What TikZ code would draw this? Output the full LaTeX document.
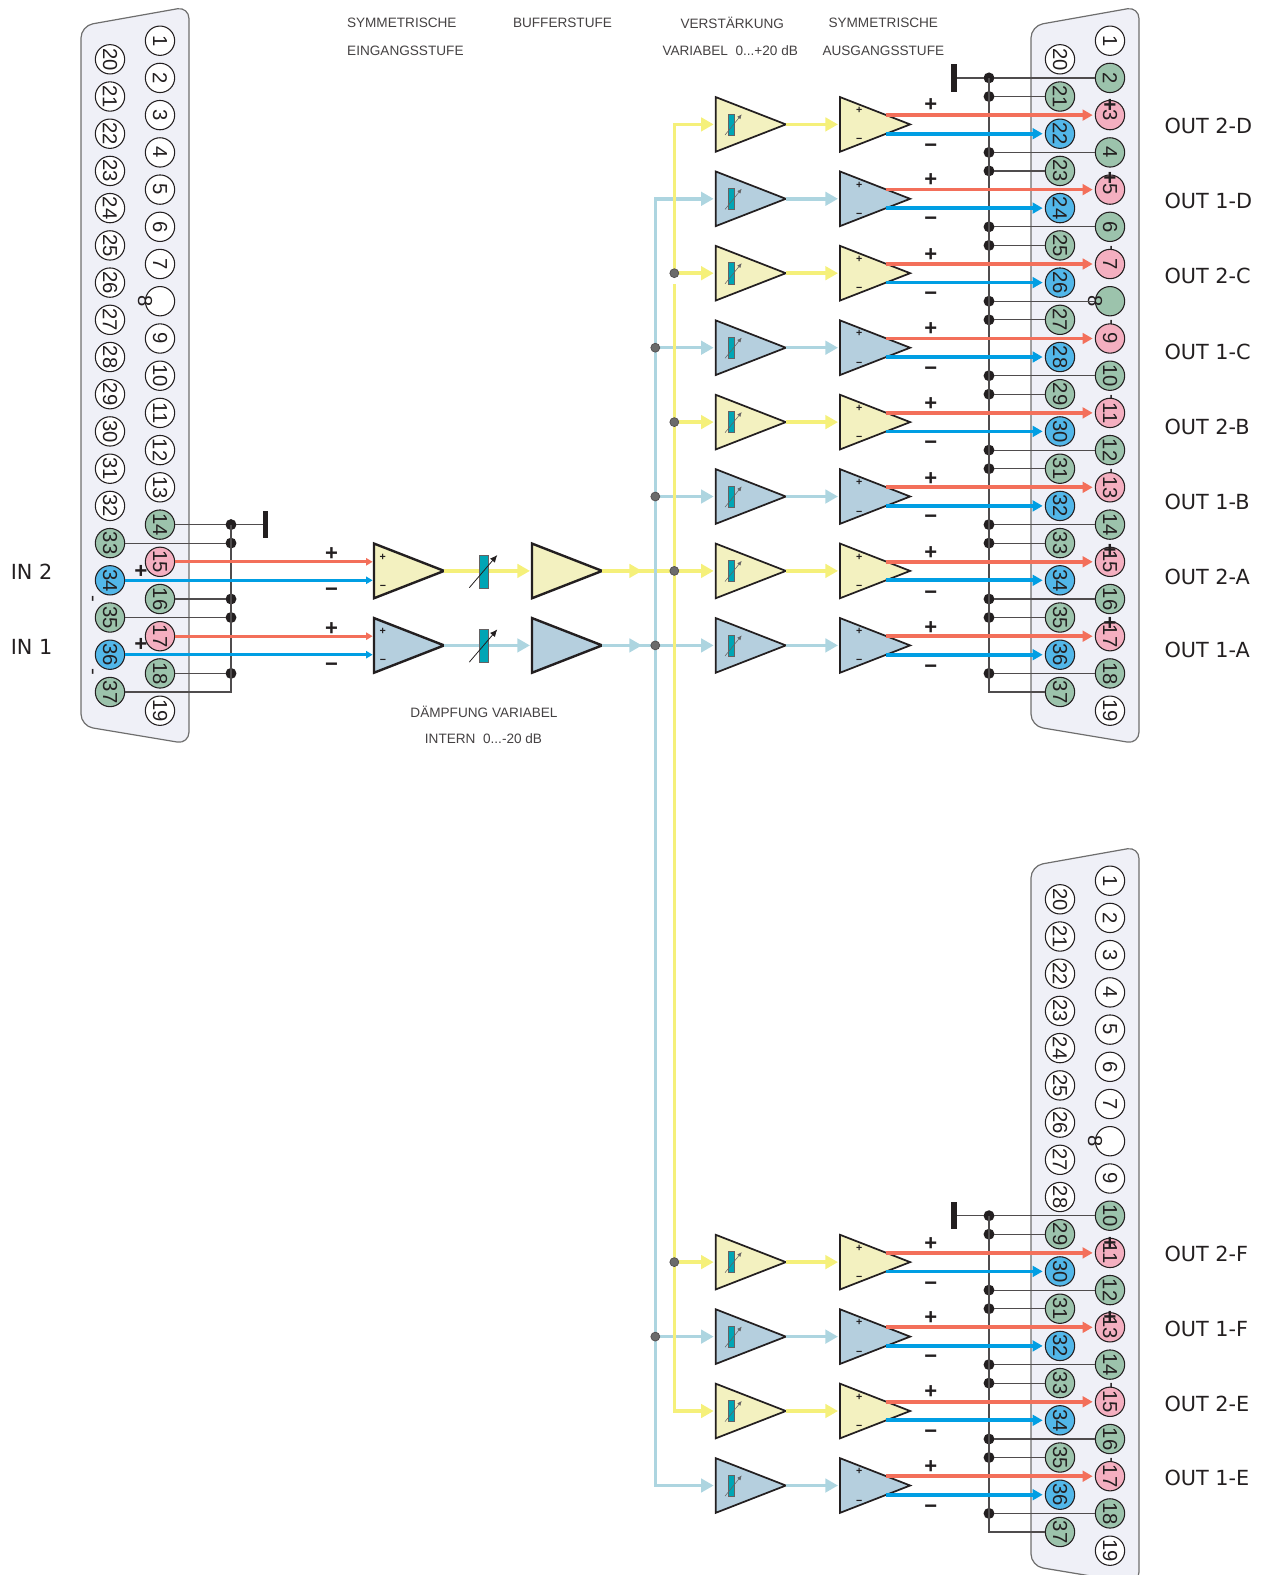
\documentclass[tikz,border=0pt]{standalone}
\usepackage{fontspec}
\setmainfont{Liberation Sans}
\newfontfamily\labelfont{DejaVu Sans}
\usetikzlibrary{arrows.meta}
\usetikzlibrary{shapes.geometric}
\definecolor{inkdark}{HTML}{231F20}
\definecolor{shellfill}{HTML}{EFF0F7}
\definecolor{shelledge}{HTML}{6E6E6E}
\definecolor{pingreen}{HTML}{9CC3AC}
\definecolor{pinpink}{HTML}{F4AFC0}
\definecolor{pinblue}{HTML}{52B7E9}
\definecolor{ampyellow}{HTML}{F3F1C0}
\definecolor{ampblue}{HTML}{B5CFDE}
\definecolor{lineyellow}{HTML}{F5F07A}
\definecolor{lineblue}{HTML}{ADD5E0}
\definecolor{linered}{HTML}{F36F5A}
\definecolor{linecyan}{HTML}{009EE3}
\definecolor{trimteal}{HTML}{00A5B5}
\tikzset{every picture/.style={line width=0.75pt}}
\tikzset{
  shell/.style={draw=shelledge,fill=shellfill,line width=0.9pt,rounded corners=9pt},
  pinw/.style={circle,draw=inkdark,fill=white,line width=0.8pt,minimum size=22pt,inner sep=0pt,outer sep=0pt,text=inkdark,rotate=-90,font=\fontsize{15.2}{15}\selectfont},
  ping/.style={pinw,fill=pingreen},
  pinp/.style={pinw,fill=pinpink},
  pinb/.style={pinw,fill=pinblue},
  pinmark/.style={inner sep=0pt,text=inkdark,rotate=-90,font=\fontsize{15.2}{15}\selectfont},
  pinplus/.style={pinmark,font=\fontsize{16.5}{15}\bfseries},
  amp/.style={isosceles triangle,isosceles triangle stretches=true,shape border rotate=0,anchor=lower side,draw=inkdark,line width=1.3pt,minimum width=41pt,minimum height=52.6pt,inner sep=0pt,outer sep=0pt},
  ampy/.style={amp,fill=ampyellow},
  ampb/.style={amp,fill=ampblue},
  ampthick/.style={line width=1.8pt},
  sgn/.style={inner sep=0pt,text height=5.3pt,text depth=0pt,text=inkdark,font=\fontsize{8}{8}\bfseries},
  bigsgn/.style={inner sep=0pt,text height=10.9pt,text depth=0pt,text=inkdark,font=\fontsize{16.5}{16}\bfseries},
  wy/.style={draw=lineyellow,line width=2.6pt,-{Triangle[length=9.4pt,width=10pt]},shorten >=1.5pt},
  wb/.style={wy,draw=lineblue},
  wyp/.style={draw=lineyellow,line width=2.6pt,line cap=rect},
  wbp/.style={draw=lineblue,line width=2.6pt,line cap=rect},
  wrout/.style={draw=linered,line width=2.8pt,-{Triangle[length=7.5pt,width=8pt]},shorten >=2pt},
  wcout/.style={wrout,draw=linecyan},
  wrin/.style={draw=linered,line width=2.4pt,-{Triangle[length=5pt,width=5.5pt]},shorten >=1pt},
  wcin/.style={wrin,draw=linecyan},
  bdot/.style={circle,fill=inkdark,minimum size=8.2pt,inner sep=0pt,outer sep=0pt},
  jdot/.style={circle,draw=inkdark!80,fill=black!58,line width=0.5pt,minimum size=6.7pt,inner sep=0pt},
  gnd/.style={draw=inkdark!80,line width=0.9pt},
  gndbar/.style={rectangle,fill=inkdark,minimum width=3.8pt,minimum height=20.6pt,inner sep=0pt,outer sep=0pt},
  trim/.style={rectangle,draw=inkdark!70,fill=trimteal,line width=0.5pt,minimum width=4.3pt,minimum height=15.8pt,inner sep=0pt},
  trimbig/.style={trim,minimum width=7pt,minimum height=25pt},
  trimarr/.style={draw=inkdark!70,line width=0.4pt,-{Latex[length=3.4pt,width=3pt]}},
  trimarrbig/.style={draw=inkdark,line width=0.6pt,-{Latex[length=5.5pt,width=4.8pt]}},
  headtext/.style={inner sep=0pt,text=inkdark!85,anchor=west,font=\fontsize{10.2}{11}\selectfont},
  outlabel/.style={inner sep=0pt,text=inkdark,anchor=west,font=\labelfont\fontsize{15.6}{16}\selectfont}
}
\begin{document}
\begin{tikzpicture}[x=0.75pt,y=0.75pt,yscale=-1,xscale=1]
\useasboundingbox (0,0) rectangle (1265,1575);
\clip (0,0) rectangle (1265,1575);

%Shape: Connector shells
\draw [shell] (81,25.9) -- (189,6.7) -- (189,744) -- (81,726) -- cycle ;
\draw [shell] (1031,25.9) -- (1139,6.7) -- (1139,744) -- (1031,726) -- cycle ;
\draw [shell] (1031,865.9) -- (1139,846.7) -- (1139,1584) -- (1031,1566) -- cycle ;

%Hyphens behind the pins
\node [pinmark] (tR7) at (1109,248.5) {-};
\node [pinmark] (tR9) at (1109,323) {-};
\node [pinmark] (tR11) at (1109,397.4) {-};
\node [pinmark] (tR13) at (1109,471.8) {-};
\node [pinmark] (tS15) at (1109,1386.3) {-};
\node [pinmark] (tS17) at (1109,1460.7) {-};

%Pins input connector
\node [pinw] (L1) at (160,40.7) {1};
\node [pinw] (L2) at (160,77.9) {2};
\node [pinw] (L3) at (160,115.1) {3};
\node [pinw] (L4) at (160,152.4) {4};
\node [pinw] (L5) at (160,189.6) {5};
\node [pinw] (L6) at (160,226.8) {6};
\node [pinw] (L7) at (160,264) {7};
\node [pinw] (L8) at (160,301.2) {};
\node [pinmark] (L8t) at (145,301.2) {8};
\node [pinw] (L9) at (160,338.5) {9};
\node [pinw] (L10) at (160,375.7) {10};
\node [pinw] (L11) at (160,412.9) {11};
\node [pinw] (L12) at (160,450.1) {12};
\node [pinw] (L13) at (160,487.3) {13};
\node [ping] (L14) at (160,524.6) {14};
\node [pinp] (L15) at (160,561.8) {15};
\node [ping] (L16) at (160,599) {16};
\node [pinp] (L17) at (160,636.2) {17};
\node [ping] (L18) at (160,673.4) {18};
\node [pinw] (L19) at (160,710.7) {19};
\node [pinw] (L20) at (110,59.3) {20};
\node [pinw] (L21) at (110,96.5) {21};
\node [pinw] (L22) at (110,133.7) {22};
\node [pinw] (L23) at (110,170.9) {23};
\node [pinw] (L24) at (110,208.1) {24};
\node [pinw] (L25) at (110,245.4) {25};
\node [pinw] (L26) at (110,282.6) {26};
\node [pinw] (L27) at (110,319.8) {27};
\node [pinw] (L28) at (110,357) {28};
\node [pinw] (L29) at (110,394.2) {29};
\node [pinw] (L30) at (110,431.4) {30};
\node [pinw] (L31) at (110,468.7) {31};
\node [pinw] (L32) at (110,505.9) {32};
\node [ping] (L33) at (110,543.1) {33};
\node [pinb] (L34) at (110,580.3) {34};
\node [ping] (L35) at (110,617.5) {35};
\node [pinb] (L36) at (110,654.7) {36};
\node [ping] (L37) at (110,692) {37};

%Pins upper output connector
\node [pinw] (R1) at (1110,40.7) {1};
\node [ping] (R2) at (1110,77.9) {2};
\node [pinp] (R3) at (1110,115.1) {3};
\node [ping] (R4) at (1110,152.4) {4};
\node [pinp] (R5) at (1110,189.6) {5};
\node [ping] (R6) at (1110,226.8) {6};
\node [pinp] (R7) at (1110,264) {7};
\node [ping] (R8) at (1110,301.2) {};
\node [pinmark] (R8t) at (1095,301.2) {8};
\node [pinp] (R9) at (1110,338.5) {9};
\node [ping] (R10) at (1110,375.7) {10};
\node [pinp] (R11) at (1110,412.9) {11};
\node [ping] (R12) at (1110,450.1) {12};
\node [pinp] (R13) at (1110,487.3) {13};
\node [ping] (R14) at (1110,524.6) {14};
\node [pinp] (R15) at (1110,561.8) {15};
\node [ping] (R16) at (1110,599) {16};
\node [pinp] (R17) at (1110,636.2) {17};
\node [ping] (R18) at (1110,673.4) {18};
\node [pinw] (R19) at (1110,710.7) {19};
\node [pinw] (R20) at (1060,59.3) {20};
\node [ping] (R21) at (1060,96.5) {21};
\node [pinb] (R22) at (1060,133.7) {22};
\node [ping] (R23) at (1060,170.9) {23};
\node [pinb] (R24) at (1060,208.1) {24};
\node [ping] (R25) at (1060,245.4) {25};
\node [pinb] (R26) at (1060,282.6) {26};
\node [ping] (R27) at (1060,319.8) {27};
\node [pinb] (R28) at (1060,357) {28};
\node [ping] (R29) at (1060,394.2) {29};
\node [pinb] (R30) at (1060,431.4) {30};
\node [ping] (R31) at (1060,468.7) {31};
\node [pinb] (R32) at (1060,505.9) {32};
\node [ping] (R33) at (1060,543.1) {33};
\node [pinb] (R34) at (1060,580.3) {34};
\node [ping] (R35) at (1060,617.5) {35};
\node [pinb] (R36) at (1060,654.7) {36};
\node [ping] (R37) at (1060,692) {37};

%Pins lower output connector
\node [pinw] (S1) at (1110,880.7) {1};
\node [pinw] (S2) at (1110,917.9) {2};
\node [pinw] (S3) at (1110,955.1) {3};
\node [pinw] (S4) at (1110,992.4) {4};
\node [pinw] (S5) at (1110,1029.6) {5};
\node [pinw] (S6) at (1110,1066.8) {6};
\node [pinw] (S7) at (1110,1104) {7};
\node [pinw] (S8) at (1110,1141.2) {};
\node [pinmark] (S8t) at (1095,1141.2) {8};
\node [pinw] (S9) at (1110,1178.5) {9};
\node [ping] (S10) at (1110,1215.7) {10};
\node [pinp] (S11) at (1110,1252.9) {11};
\node [ping] (S12) at (1110,1290.1) {12};
\node [pinp] (S13) at (1110,1327.3) {13};
\node [ping] (S14) at (1110,1364.6) {14};
\node [pinp] (S15) at (1110,1401.8) {15};
\node [ping] (S16) at (1110,1439) {16};
\node [pinp] (S17) at (1110,1476.2) {17};
\node [ping] (S18) at (1110,1513.4) {18};
\node [pinw] (S19) at (1110,1550.7) {19};
\node [pinw] (S20) at (1060,899.3) {20};
\node [pinw] (S21) at (1060,936.5) {21};
\node [pinw] (S22) at (1060,973.7) {22};
\node [pinw] (S23) at (1060,1010.9) {23};
\node [pinw] (S24) at (1060,1048.1) {24};
\node [pinw] (S25) at (1060,1085.4) {25};
\node [pinw] (S26) at (1060,1122.6) {26};
\node [pinw] (S27) at (1060,1159.8) {27};
\node [pinw] (S28) at (1060,1197) {28};
\node [ping] (S29) at (1060,1234.2) {29};
\node [pinb] (S30) at (1060,1271.4) {30};
\node [ping] (S31) at (1060,1308.7) {31};
\node [pinb] (S32) at (1060,1345.9) {32};
\node [ping] (S33) at (1060,1383.1) {33};
\node [pinb] (S34) at (1060,1420.3) {34};
\node [ping] (S35) at (1060,1457.5) {35};
\node [pinb] (S36) at (1060,1494.7) {36};
\node [ping] (S37) at (1060,1532) {37};

%Ground wiring input connector
\node [gndbar] (GL) at (265.7,524.6) {};
\node [bdot] (dL14) at (231,524.6) {}; \draw [gnd] (dL14) -- (L14);
\node [bdot] (dL33) at (231,543.1) {}; \draw [gnd] (dL33) -- (L33);
\node [bdot] (dL16) at (231,599) {}; \draw [gnd] (dL16) -- (L16);
\node [bdot] (dL35) at (231,617.5) {}; \draw [gnd] (dL35) -- (L35);
\node [bdot] (dL18) at (231,673.4) {}; \draw [gnd] (dL18) -- (L18);
\draw [gnd] (dL14) -- (GL);
\draw [gnd] (dL14.center) |- (L37);

%Ground wiring upper output connector
\node [gndbar] (GR) at (954,77.9) {};
\node [bdot] (dR2) at (989,77.9) {}; \draw [gnd] (dR2) -- (R2);
\node [bdot] (dR21) at (989,96.5) {}; \draw [gnd] (dR21) -- (R21);
\node [bdot] (dR4) at (989,152.4) {}; \draw [gnd] (dR4) -- (R4);
\node [bdot] (dR23) at (989,170.9) {}; \draw [gnd] (dR23) -- (R23);
\node [bdot] (dR6) at (989,226.8) {}; \draw [gnd] (dR6) -- (R6);
\node [bdot] (dR25) at (989,245.4) {}; \draw [gnd] (dR25) -- (R25);
\node [bdot] (dR8) at (989,301.2) {}; \draw [gnd] (dR8) -- (R8);
\node [bdot] (dR27) at (989,319.8) {}; \draw [gnd] (dR27) -- (R27);
\node [bdot] (dR10) at (989,375.7) {}; \draw [gnd] (dR10) -- (R10);
\node [bdot] (dR29) at (989,394.2) {}; \draw [gnd] (dR29) -- (R29);
\node [bdot] (dR12) at (989,450.1) {}; \draw [gnd] (dR12) -- (R12);
\node [bdot] (dR31) at (989,468.7) {}; \draw [gnd] (dR31) -- (R31);
\node [bdot] (dR14) at (989,524.6) {}; \draw [gnd] (dR14) -- (R14);
\node [bdot] (dR33) at (989,543.1) {}; \draw [gnd] (dR33) -- (R33);
\node [bdot] (dR16) at (989,599) {}; \draw [gnd] (dR16) -- (R16);
\node [bdot] (dR35) at (989,617.5) {}; \draw [gnd] (dR35) -- (R35);
\node [bdot] (dR18) at (989,673.4) {}; \draw [gnd] (dR18) -- (R18);
\draw [gnd] (dR2) -- (GR);
\draw [gnd] (dR2.center) |- (R37);

%Ground wiring lower output connector
\node [gndbar] (GS) at (954,1215.7) {};
\node [bdot] (dS10) at (989,1215.7) {}; \draw [gnd] (dS10) -- (S10);
\node [bdot] (dS29) at (989,1234.2) {}; \draw [gnd] (dS29) -- (S29);
\node [bdot] (dS12) at (989,1290.1) {}; \draw [gnd] (dS12) -- (S12);
\node [bdot] (dS31) at (989,1308.7) {}; \draw [gnd] (dS31) -- (S31);
\node [bdot] (dS14) at (989,1364.6) {}; \draw [gnd] (dS14) -- (S14);
\node [bdot] (dS33) at (989,1383.1) {}; \draw [gnd] (dS33) -- (S33);
\node [bdot] (dS16) at (989,1439) {}; \draw [gnd] (dS16) -- (S16);
\node [bdot] (dS35) at (989,1457.5) {}; \draw [gnd] (dS35) -- (S35);
\node [bdot] (dS18) at (989,1513.4) {}; \draw [gnd] (dS18) -- (S18);
\draw [gnd] (dS10) -- (GS);
\draw [gnd] (dS10.center) |- (S37);

%Amplifiers
\node [ampy,ampthick] (A2) at (374,570.9) {};
\node [ampb,ampthick] (A1) at (374,645.4) {};
\node [ampy,ampthick] (B2) at (532,570.9) {};
\node [ampb,ampthick] (B1) at (532,645.4) {};
\node [ampy] (G1) at (715.7,124.4) {};
\node [ampb] (G2) at (715.7,198.8) {};
\node [ampy] (G3) at (715.7,273.2) {};
\node [ampb] (G4) at (715.7,347.7) {};
\node [ampy] (G5) at (715.7,422.1) {};
\node [ampb] (G6) at (715.7,496.5) {};
\node [ampy] (G7) at (715.7,570.9) {};
\node [ampb] (G8) at (715.7,645.4) {};
\node [ampy] (G9) at (715.7,1262.1) {};
\node [ampb] (G10) at (715.7,1336.6) {};
\node [ampy] (G11) at (715.7,1411) {};
\node [ampb] (G12) at (715.7,1485.5) {};
\node [ampy] (O1) at (840,124.4) {};
\node [ampb] (O2) at (840,198.8) {};
\node [ampy] (O3) at (840,273.2) {};
\node [ampb] (O4) at (840,347.7) {};
\node [ampy] (O5) at (840,422.1) {};
\node [ampb] (O6) at (840,496.5) {};
\node [ampy] (O7) at (840,570.9) {};
\node [ampb] (O8) at (840,645.4) {};
\node [ampy] (O9) at (840,1262.1) {};
\node [ampb] (O10) at (840,1336.6) {};
\node [ampy] (O11) at (840,1411) {};
\node [ampb] (O12) at (840,1485.5) {};

%Straight Lines input stage
\draw [wrin] (L15) -- (L15 -| A2.lower side);
\draw [wcin] (L34) -- (L34 -| A2.lower side);
\draw [wrin] (L17) -- (L17 -| A1.lower side);
\draw [wcin] (L36) -- (L36 -| A1.lower side);
\draw [wy] (A2.apex) -- (B2.lower side);
\draw [wb] (A1.apex) -- (B1.lower side);

%Straight Lines yellow feed, blue bus over it, yellow bus over that
\coordinate (Ytop) at (674.3,124.4);
\coordinate (Y3) at (674.3,273.2);
\coordinate (Ygap) at (674.3,286);
\coordinate (Y5) at (674.3,422.1);
\coordinate (Y7) at (674.3,570.9);
\coordinate (Y9) at (674.3,1262.1);
\coordinate (Y11) at (674.3,1411);
\coordinate (U2) at (655.3,198.8);
\coordinate (U4) at (655.3,347.7);
\coordinate (U6) at (655.3,496.5);
\coordinate (U8) at (655.3,645.4);
\coordinate (U10) at (655.3,1336.6);
\coordinate (U12) at (655.3,1485.5);
\coordinate (Ya) at (644,570.9);
\coordinate (Ua) at (644,645.4);
\draw [wy] (B2.apex) -- (Ya);
\draw [wy] (B2.apex) -- (G7.lower side);
\draw [wy] (Ytop) -- (G1.lower side);
\draw [wy] (Y3) -- (G3.lower side);
\draw [wy] (Y5) -- (G5.lower side);
\draw [wy] (Y9) -- (G9.lower side);
\draw [wy] (Y11) -- (G11.lower side);
\draw [wb] (B1.apex) -- (Ua);
\draw [wb] (B1.apex) -- (G8.lower side);
\draw [wb] (U2) -- (G2.lower side);
\draw [wb] (U4) -- (G4.lower side);
\draw [wb] (U6) -- (G6.lower side);
\draw [wb] (U10) -- (G10.lower side);
\draw [wb] (U12) -- (G12.lower side);
\draw [wbp] (U2) -- (U12);
\draw [wyp] (Ytop) -- (Y3);
\draw [wyp] (Ygap) -- (Y11);
\node [jdot] (dY3) at (Y3) {};
\node [jdot] (dY5) at (Y5) {};
\node [jdot] (dY7) at (Y7) {};
\node [jdot] (dY9) at (Y9) {};
\node [jdot] (dU4) at (U4) {};
\node [jdot] (dU6) at (U6) {};
\node [jdot] (dU8) at (U8) {};
\node [jdot] (dU10) at (U10) {};

%Straight Lines gain to output stage
\draw [wy] (G1.apex) -- (O1.lower side);
\draw [wb] (G2.apex) -- (O2.lower side);
\draw [wy] (G3.apex) -- (O3.lower side);
\draw [wb] (G4.apex) -- (O4.lower side);
\draw [wy] (G5.apex) -- (O5.lower side);
\draw [wb] (G6.apex) -- (O6.lower side);
\draw [wy] (G7.apex) -- (O7.lower side);
\draw [wb] (G8.apex) -- (O8.lower side);
\draw [wy] (G9.apex) -- (O9.lower side);
\draw [wb] (G10.apex) -- (O10.lower side);
\draw [wy] (G11.apex) -- (O11.lower side);
\draw [wb] (G12.apex) -- (O12.lower side);

%Straight Lines outputs
\draw [wrout] (885.5,115.1) coordinate (rO1) -- (R3);
\draw [wcout] (885.5,133.7) coordinate (cO1) -- (R22);
\draw [wrout] (885.5,189.6) coordinate (rO2) -- (R5);
\draw [wcout] (885.5,208.1) coordinate (cO2) -- (R24);
\draw [wrout] (885.5,264) coordinate (rO3) -- (R7);
\draw [wcout] (885.5,282.6) coordinate (cO3) -- (R26);
\draw [wrout] (885.5,338.5) coordinate (rO4) -- (R9);
\draw [wcout] (885.5,357) coordinate (cO4) -- (R28);
\draw [wrout] (885.5,412.9) coordinate (rO5) -- (R11);
\draw [wcout] (885.5,431.4) coordinate (cO5) -- (R30);
\draw [wrout] (885.5,487.3) coordinate (rO6) -- (R13);
\draw [wcout] (885.5,505.9) coordinate (cO6) -- (R32);
\draw [wrout] (885.5,561.8) coordinate (rO7) -- (R15);
\draw [wcout] (885.5,580.3) coordinate (cO7) -- (R34);
\draw [wrout] (885.5,636.2) coordinate (rO8) -- (R17);
\draw [wcout] (885.5,654.7) coordinate (cO8) -- (R36);
\draw [wrout] (885.5,1252.9) coordinate (rO9) -- (S11);
\draw [wcout] (885.5,1271.4) coordinate (cO9) -- (S30);
\draw [wrout] (885.5,1327.3) coordinate (rO10) -- (S13);
\draw [wcout] (885.5,1345.9) coordinate (cO10) -- (S32);
\draw [wrout] (885.5,1401.8) coordinate (rO11) -- (S15);
\draw [wcout] (885.5,1420.3) coordinate (cO11) -- (S34);
\draw [wrout] (885.5,1476.2) coordinate (rO12) -- (S17);
\draw [wcout] (885.5,1494.7) coordinate (cO12) -- (S36);

%Shape: Trimmers
\node [trimbig] (D2) at (484,571.6) {};
\draw [trimarrbig] (469.3,587.7) -- (497.3,555) ;
\node [trimbig] (D1) at (484,646) {};
\draw [trimarrbig] (469.3,662.1) -- (497.3,629.4) ;
\node [trim] (T1) at (731.2,124.5) {};
\draw [trimarr] (725,135) -- (741.7,114.4) ;
\node [trim] (T2) at (731.2,198.9) {};
\draw [trimarr] (725,209.4) -- (741.7,188.8) ;
\node [trim] (T3) at (731.2,273.3) {};
\draw [trimarr] (725,283.8) -- (741.7,263.2) ;
\node [trim] (T4) at (731.2,347.8) {};
\draw [trimarr] (725,358.3) -- (741.7,337.7) ;
\node [trim] (T5) at (731.2,422.2) {};
\draw [trimarr] (725,432.7) -- (741.7,412.1) ;
\node [trim] (T6) at (731.2,496.6) {};
\draw [trimarr] (725,507.1) -- (741.7,486.5) ;
\node [trim] (T7) at (731.2,571) {};
\draw [trimarr] (725,581.5) -- (741.7,560.9) ;
\node [trim] (T8) at (731.2,645.5) {};
\draw [trimarr] (725,656) -- (741.7,635.4) ;
\node [trim] (T9) at (731.2,1262.2) {};
\draw [trimarr] (725,1272.7) -- (741.7,1252.1) ;
\node [trim] (T10) at (731.2,1336.7) {};
\draw [trimarr] (725,1347.2) -- (741.7,1326.6) ;
\node [trim] (T11) at (731.2,1411.1) {};
\draw [trimarr] (725,1421.6) -- (741.7,1401) ;
\node [trim] (T12) at (731.2,1485.6) {};
\draw [trimarr] (725,1496.1) -- (741.7,1475.5) ;

% Text Node signs in the amplifiers
\node [sgn] (Ap2) at (382.7,556.7) {+};
\node [sgn] (Am2) at (383,585.7) {−};
\node [sgn] (Ap1) at (382.7,631) {+};
\node [sgn] (Am1) at (383,660) {−};
\node [sgn] (Op1) at (859.3,110.1) {+};
\node [sgn] (Om1) at (859.3,139.4) {−};
\node [sgn] (Op2) at (859.3,184.5) {+};
\node [sgn] (Om2) at (859.3,213.8) {−};
\node [sgn] (Op3) at (859.3,258.9) {+};
\node [sgn] (Om3) at (859.3,288.2) {−};
\node [sgn] (Op4) at (859.3,333.4) {+};
\node [sgn] (Om4) at (859.3,362.7) {−};
\node [sgn] (Op5) at (859.3,407.8) {+};
\node [sgn] (Om5) at (859.3,437.1) {−};
\node [sgn] (Op6) at (859.3,482.2) {+};
\node [sgn] (Om6) at (859.3,511.5) {−};
\node [sgn] (Op7) at (859.3,556.6) {+};
\node [sgn] (Om7) at (859.3,585.9) {−};
\node [sgn] (Op8) at (859.3,631.1) {+};
\node [sgn] (Om8) at (859.3,660.4) {−};
\node [sgn] (Op9) at (859.3,1247.8) {+};
\node [sgn] (Om9) at (859.3,1277.1) {−};
\node [sgn] (Op10) at (859.3,1322.3) {+};
\node [sgn] (Om10) at (859.3,1351.6) {−};
\node [sgn] (Op11) at (859.3,1396.7) {+};
\node [sgn] (Om11) at (859.3,1426) {−};
\node [sgn] (Op12) at (859.3,1471.2) {+};
\node [sgn] (Om12) at (859.3,1500.5) {−};

% Text Node signs on the lines
\node [bigsgn] (Wp2) at (331.6,553.6) {+};
\node [bigsgn] (Wm2) at (331.6,589.5) {−};
\node [bigsgn] (Wp1) at (331.6,628) {+};
\node [bigsgn] (Wm1) at (331.6,664) {−};
\node [bigsgn] (Sp1) at (930.7,104.5) {+};
\node [bigsgn] (Sm1) at (930.7,145.7) {−};
\node [bigsgn] (Sp2) at (930.7,178.9) {+};
\node [bigsgn] (Sm2) at (930.7,218) {−};
\node [bigsgn] (Sp3) at (930.7,254.2) {+};
\node [bigsgn] (Sm3) at (930.7,293.4) {−};
\node [bigsgn] (Sp4) at (930.7,328.6) {+};
\node [bigsgn] (Sm4) at (930.7,367.8) {−};
\node [bigsgn] (Sp5) at (930.7,402.9) {+};
\node [bigsgn] (Sm5) at (930.7,442.1) {−};
\node [bigsgn] (Sp6) at (930.7,478.3) {+};
\node [bigsgn] (Sm6) at (930.7,516.5) {−};
\node [bigsgn] (Sp7) at (930.7,552.6) {+};
\node [bigsgn] (Sm7) at (930.7,591.8) {−};
\node [bigsgn] (Sp8) at (930.7,627) {+};
\node [bigsgn] (Sm8) at (930.7,666.2) {−};
\node [bigsgn] (Sp9) at (930.7,1243) {+};
\node [bigsgn] (Sm9) at (930.7,1283) {−};
\node [bigsgn] (Sp10) at (930.7,1317.3) {+};
\node [bigsgn] (Sm10) at (930.7,1356.5) {−};
\node [bigsgn] (Sp11) at (930.7,1391.6) {+};
\node [bigsgn] (Sm11) at (930.7,1430.8) {−};
\node [bigsgn] (Sp12) at (930.7,1466) {+};
\node [bigsgn] (Sm12) at (930.7,1506.2) {−};

% Text Node marks at the pins
\node [pinplus] (mL34p) at (140,570.7) {+};
\node [pinmark] (mL34m) at (90.5,599) {-};
\node [pinplus] (mL36p) at (140,644) {+};
\node [pinmark] (mL36m) at (90.5,672) {-};
\node [pinplus] (mR3) at (1109,105) {+};
\node [pinplus] (mR5) at (1109,178) {+};
\node [pinplus] (mR15) at (1109,550) {+};
\node [pinplus] (mR17) at (1109,623) {+};
\node [pinplus] (mS11) at (1109,1243) {+};
\node [pinplus] (mS13) at (1109,1317) {+};

% Text Node headings
\node [headtext] (H1) at (346.5,22.8) {SYMMETRISCHE};
\node [headtext] (H2) at (346.7,51) {EINGANGSSTUFE};
\node [headtext] (H3) at (512.5,22.5) {BUFFERSTUFE};
\node [headtext] (H4) at (680,23) {VERSTÄRKUNG};
\node [headtext] (H5) at (662,50.2) {VARIABEL\ \ 0...+20 dB};
\node [headtext] (H6) at (828,22.8) {SYMMETRISCHE};
\node [headtext] (H7) at (822,51) {AUSGANGSSTUFE};
\node [headtext,anchor=center] (H8) at (484,711.5) {DÄMPFUNG VARIABEL};
\node [headtext,anchor=center] (H9) at (483.5,738.5) {INTERN\ \ 0...-20 dB};

% Text Node connector labels
\node [outlabel] (IN2) at (10.3,571.7) {IN 2};
\node [outlabel] (IN1) at (10.3,646.7) {IN 1};
\node [outlabel] (OUT2D) at (1164,125.7) {OUT 2-D};
\node [outlabel] (OUT1D) at (1164,200.6) {OUT 1-D};
\node [outlabel] (OUT2C) at (1164,276.2) {OUT 2-C};
\node [outlabel] (OUT1C) at (1164,352) {OUT 1-C};
\node [outlabel] (OUT2B) at (1164,427) {OUT 2-B};
\node [outlabel] (OUT1B) at (1164,501.7) {OUT 1-B};
\node [outlabel] (OUT2A) at (1164,576.7) {OUT 2-A};
\node [outlabel] (OUT1A) at (1164,650) {OUT 1-A};
\node [outlabel] (OUT2F) at (1164,1254) {OUT 2-F};
\node [outlabel] (OUT1F) at (1164,1329) {OUT 1-F};
\node [outlabel] (OUT2E) at (1164,1404) {OUT 2-E};
\node [outlabel] (OUT1E) at (1164,1478) {OUT 1-E};

\end{tikzpicture}
\end{document}
